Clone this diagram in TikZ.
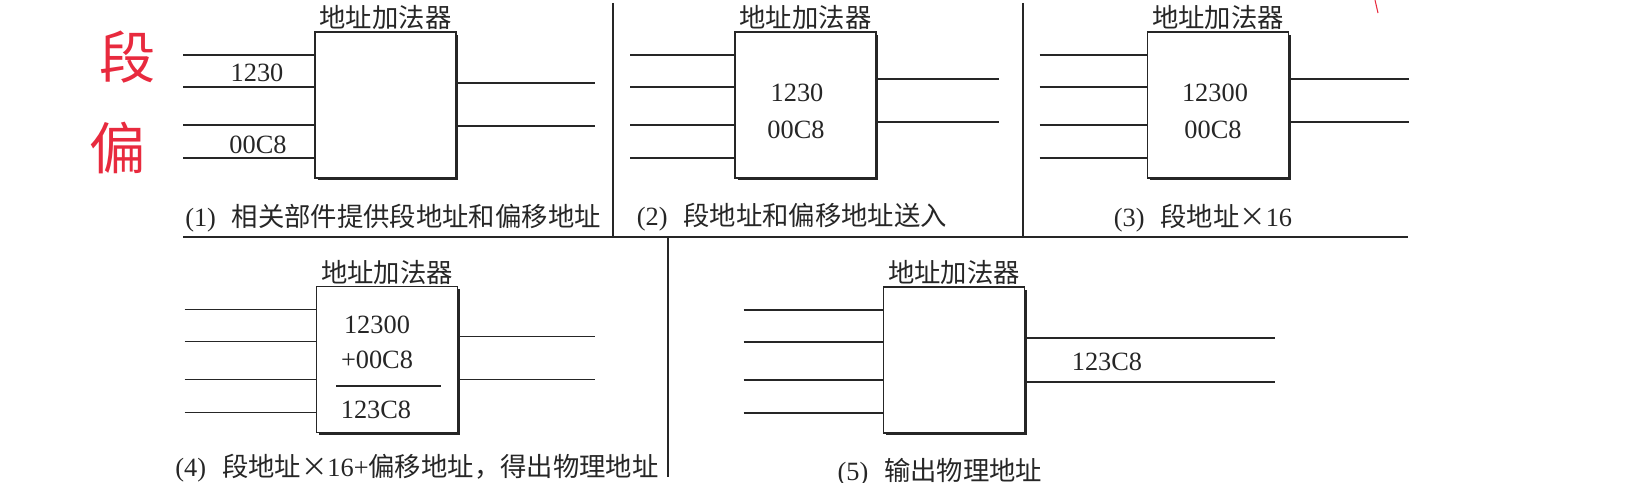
\documentclass[tikz,border=0pt]{standalone}
\usepackage{fontspec}
\setmainfont{Liberation Serif}
\newfontfamily\cjk{Noto Sans CJK SC}
\newcommand{\zh}[1]{{\cjk #1}}
\usetikzlibrary{positioning,shadows}
\definecolor{ink}{RGB}{38,38,38}
\definecolor{pen}{RGB}{232,42,62}

\begin{document}
\begin{tikzpicture}[x=0.02cm, y=-0.02cm, font=\fontsize{15}{18}\selectfont, text=ink]
% Define node styles
\tikzstyle{adder} = [draw=ink, line width=1pt, fill=white, inner sep=0, outer sep=0,
  minimum width=2.82cm, minimum height=2.92cm,
  drop shadow={shadow xshift=0.05cm, shadow yshift=-0.05cm, opacity=1, fill=ink}]
\tikzstyle{wire} = [draw=ink, line width=1pt]
\tikzstyle{sep} = [draw=ink, line width=0.9pt]
\tikzstyle{title} = [inner sep=0]
\tikzstyle{num} = [inner sep=0]
\tikzstyle{caption} = [inner sep=0]
\tikzstyle{hand} = [text=pen, inner sep=0, font=\cjk\fontsize{32}{32}\selectfont]

\useasboundingbox (0,0) rectangle (1640,483);

% Draw adders
\node[adder] (b1) at (385.5,105) {};
\node[adder] (b2) at (805.5,105) {};
\node[adder] (b3) at (1218,105) {};
\node[adder] (b4) at (387,359.5) {};
\node[adder] (b5) at (954,360) {};

% Titles above the adders
\foreach \b in {b1,b2,b3,b4,b5}
  \node[title, above=1pt of \b] (\b-title) {\zh{地址加法器}};

% Draw wires
\foreach \b/\dl/\dr/\ra/\rb in {b1/132/139/51/94, b2/105/123/47/90, b3/108/120/47/90,
                               b4/132/138/50/93, b5/140/250/51/95} {
  \foreach \y [count=\i] in {23,55,93,126} {
    \path (\b.north west) ++(-\dl,\y) coordinate (\b-in\i);
    \draw[wire] (\b-in\i) -- (\b.west |- \b-in\i);
  }
  \foreach \y [count=\i] in {\ra,\rb} {
    \path (\b.north east) ++(\dr,\y) coordinate (\b-out\i);
    \draw[wire] (\b.east |- \b-out\i) -- (\b-out\i);
  }
}

% Values
\node[num] (seg1) at (257,73) {1230};
\node[num] (off1) at (258,145) {00C8};
\node[num] (seg2) at (797,93) {1230};
\node[num] (off2) at (796,130) {00C8};
\node[num] (seg3) at (1215,93) {12300};
\node[num] (off3) at (1213,130) {00C8};
\node[num] (seg4) at (377,325) {12300};
\node[num] (off4) at (377,360) {+00C8};
\node[num] (sum4) at (376,410) {123C8};
\draw[wire] (336,386) -- (441,386);
\node[num] (sum5) at (1107,362) {123C8};

% Captions
\node[caption] (c1) at (393,218) {(1)\hspace{0.6em}\zh{相关部件提供段地址和偏移地址}};
\node[caption] (c2) at (792,217) {(2)\hspace{0.6em}\zh{段地址和偏移地址送入}};
\node[caption] (c3) at (1203,218) {(3)\hspace{0.6em}\zh{段地址×}16};
\node[caption] (c4) at (417,468) {(4)\hspace{0.6em}\zh{段地址×}16+\zh{偏移地址，得出物理地址}};
\node[caption] (c5) at (940,472) {(5)\hspace{0.6em}\zh{输出物理地址}};

% Separators
\draw[sep] (183,237) -- (1408,237);
\draw[sep] (613,3) -- (613,237);
\draw[sep] (1023,3) -- (1023,237);
\draw[sep] (668,237) -- (668,477);

% Handwritten notes
\node[hand] (n1) at (128,57) {段};
\node[hand] (n2) at (118,148) {偏};
\draw[pen, line width=0.6pt] (1375,0) -- (1378,13);
\end{tikzpicture}
\end{document}
